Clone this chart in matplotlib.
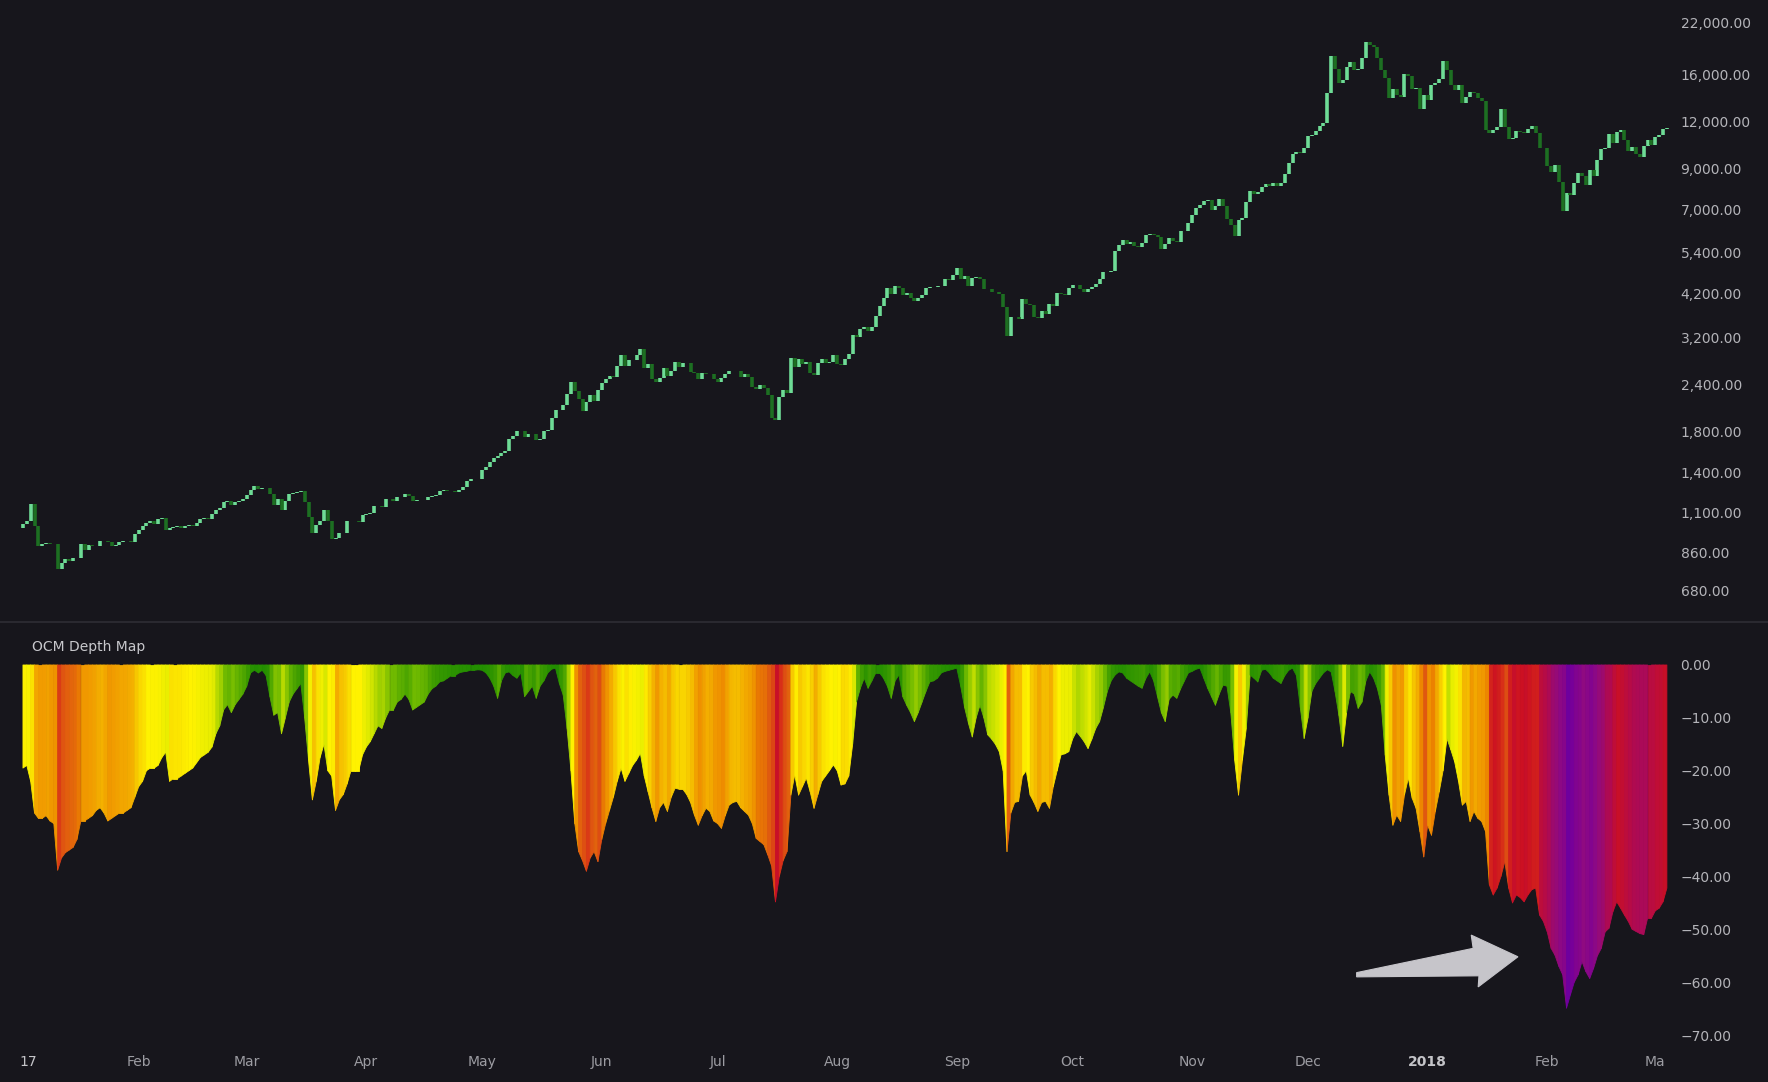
import numpy as np
import matplotlib
matplotlib.use("Agg")
from matplotlib import pyplot as plt
import matplotlib.dates as mdates
from matplotlib.colors import LinearSegmentedColormap, Normalize
from matplotlib.patches import Polygon
from matplotlib.collections import PolyCollection
from matplotlib.ticker import FixedLocator, FuncFormatter, NullLocator

# daily closes, 2 Jan 2017 .. 4 Mar 2018
first_open = 998
close_jan17 = [1021, 1043, 1154, 1013, 896, 903, 909, 903, 908, 778, 806, 826, 818, 832, 830,
               907, 872, 899, 896, 893, 921, 925, 915, 893, 901, 918, 920, 921, 914, 965]
close_feb17 = [989, 1011, 1030, 1045, 1024, 1053, 1062, 985, 999, 1004, 1011, 996, 1010, 1019,
               1009, 1032, 1053, 1065, 1056, 1085, 1117, 1126, 1171, 1177, 1148, 1169, 1178, 1190]
close_mar17 = [1222, 1259, 1288, 1269, 1273, 1277, 1232, 1153, 1195, 1113, 1180, 1226, 1241, 1244,
               1253, 1172, 1071, 970, 1020, 1042, 1113, 1044, 936, 937, 966, 968, 1045, 1045, 1040,
               1037, 1079]
close_apr17 = [1086, 1097, 1144, 1143, 1134, 1194, 1195, 1181, 1207, 1207, 1226, 1218, 1180, 1185,
               1186, 1187, 1210, 1217, 1222, 1253, 1259, 1249, 1251, 1248, 1262, 1284, 1331, 1347,
               1348, 1351]
close_may17 = [1421, 1452, 1491, 1537, 1555, 1578, 1596, 1725, 1756, 1807, 1809, 1738, 1779, 1780,
               1714, 1726, 1805, 1819, 1961, 2053, 2052, 2124, 2273, 2446, 2305, 2202, 2038, 2155,
               2256, 2176, 2330]
close_jun17 = [2424, 2478, 2530, 2516, 2698, 2874, 2691, 2789, 2790, 2871, 2980, 2657, 2718, 2482,
               2444, 2507, 2656, 2531, 2609, 2760, 2672, 2741, 2740, 2587, 2582, 2488, 2584, 2565,
               2559, 2480]
close_jul17 = [2435, 2498, 2561, 2610, 2616, 2608, 2519, 2566, 2518, 2367, 2337, 2398, 2357, 2249,
               1963, 1929, 2228, 2319, 2274, 2818, 2668, 2811, 2730, 2755, 2574, 2539, 2744, 2807,
               2733, 2765, 2876]
close_aug17 = [2718, 2710, 2805, 2895, 3252, 3213, 3378, 3420, 3342, 3418, 3650, 3884, 4073, 4325,
               4182, 4376, 4331, 4160, 4194, 4088, 4000, 4090, 4151, 4335, 4372, 4353, 4382, 4382,
               4579, 4565, 4703]
close_sep17 = [4892, 4579, 4656, 4381, 4606, 4637, 4589, 4313, 4318, 4229, 4227, 4168, 3871, 3237,
               3625, 3625, 3583, 4065, 3924, 3905, 3631, 3602, 3776, 3703, 3943, 3890, 4209, 4173,
               4163, 4339]
close_oct17 = [4403, 4410, 4311, 4226, 4322, 4370, 4438, 4594, 4777, 4782, 4820, 5431, 5639, 5829,
               5687, 5755, 5595, 5573, 5700, 6006, 6031, 5999, 5906, 5505, 5669, 5893, 5780, 5754,
               6153, 6131, 6468]
close_nov17 = [6767, 7079, 7208, 7380, 7407, 6996, 7144, 7459, 7143, 6618, 6357, 5950, 6559, 6635,
               7316, 7871, 7708, 7791, 8036, 8200, 8072, 8244, 8099, 8234, 8700, 9333, 9839, 9958,
               9889, 10233]
close_dec17 = [10975, 11075, 11323, 11657, 11917, 14292, 17899, 16570, 15179, 15455, 16733, 17276,
               16409, 16565, 17706, 19497, 19140, 18980, 17706, 16459, 15632, 13863, 14608, 14157,
               13926, 16099, 15839, 14607, 14699, 12952, 14157]
close_jan18 = [13657, 14982, 15201, 15599, 17430, 16477, 14991, 14595, 14973, 13405, 13981, 14361,
               14266, 13820, 13610, 11432, 11199, 11424, 11596, 12951, 11627, 10806, 10859, 11360,
               11260, 11172, 11441, 11708, 11200, 10232, 10221]
close_feb18 = [9170, 8830, 9174, 8277, 6955, 7755, 7638, 8266, 8736, 8621, 8130, 8926, 8599, 9494,
               10166, 10233, 11113, 10551, 11225, 11404, 10690, 10005, 10301, 9813, 9665, 10366,
               10725, 10397]
close_mar18 = [10951, 11086, 11489, 11512]

# OCM depth map, same days
depth_jan17 = [-19.5, -19, -22, -28, -29, -29, -28.5, -29.5, -30, -38.8, -36.5, -35.5, -35, -34.5,
               -33, -29.5, -29.5, -29, -28.5, -27.5, -27, -28, -29.5, -29, -28.5, -28, -28, -27.5,
               -27, -25]
depth_feb17 = [-23, -22, -20, -19.5, -19.5, -19, -17.5, -16.5, -22, -21.5, -21.5, -21, -20.5, -20,
               -19.5, -18.5, -17.5, -17, -16.5, -15.5, -13, -11.5, -8.5, -7.5, -9, -7.5, -6.5, -5.5]
depth_mar17 = [-4, -1.5, -1, -1.5, -1, -2, -6, -9.5, -9, -13, -10, -7, -5.5, -4.5, -3.5, -10, -18,
               -25.5, -22, -17.5, -15, -20, -21, -27.5, -25.5, -24.5, -22.5, -20, -20, -20, -17]
depth_apr17 = [-15.5, -14.5, -13, -11.5, -12, -10, -8.5, -8.5, -7, -6.5, -5.5, -6.5, -8.5, -8, -7.5,
               -7, -5.5, -4.5, -4, -3.2, -3, -2.5, -2, -2, -1.5, -1.3, -1.2, -1, -1, -0.9]
depth_may17 = [-1, -1.5, -2.5, -4, -6.3, -3, -1.5, -1.3, -2, -2.5, -1.5, -6, -5, -4, -6.3, -4, -3,
               -1.5, -0.8, -0.6, -3.5, -5.7, -12, -20, -30, -35.3, -37, -39, -36.5, -35.3, -37.2]
depth_jun17 = [-33, -30, -27.5, -25, -22, -19.5, -22, -20.5, -19, -18, -16.7, -21, -24, -27, -29.6,
               -27, -26, -27.7, -25, -23.3, -23.5, -23.5, -24.5, -26, -28.4, -30.3, -28.5, -27.1,
               -27.7, -29.5]
depth_jul17 = [-30, -30.9, -28.5, -26.5, -26, -25.8, -27, -27.7, -28.4, -30, -32.8, -33.4, -34,
               -35.9, -38, -44.8, -40, -37, -35.3, -24.6, -20.8, -24.6, -23, -21.4, -24, -27.1,
               -24.5, -22, -21, -20, -18.9]
depth_aug17 = [-20, -22.7, -22.5, -21, -15, -7, -4.4, -2.5, -4.4, -3, -1.5, -1.5, -2.5, -4, -6.3,
               -3, -1.9, -6, -7.6, -9, -10.7, -9, -7, -5, -3.2, -3, -2.5, -1.5, -1.2, -1, -0.8]
depth_sep17 = [-0.6, -4, -8, -11, -13.6, -10, -7.6, -10, -13.2, -14, -15, -16.4, -20, -35.3, -28,
               -26, -25.8, -21, -20, -24.6, -26, -27.7, -26, -25.8, -27.1, -23, -20, -17, -16.8,
               -16.4]
depth_oct17 = [-14, -12.6, -13.5, -14.5, -15.8, -14, -12, -10.7, -8, -5, -3, -1.9, -1.3, -1.5, -2.5,
               -3, -3.5, -4, -4.4, -2.5, -1.3, -3, -6, -9, -10.7, -6.5, -5.7, -6.3, -4.5, -3, -1.5]
depth_nov17 = [-1.2, -0.8, -0.6, -2.5, -4.4, -6, -7.6, -5.5, -3.8, -4, -9, -18, -24.6, -18, -12,
               -1.9, -2.5, -3.2, -1, -0.8, -1.5, -2.5, -3, -3.5, -2, -1, -0.6, -2, -8, -13.9]
depth_dec17 = [-10, -5, -3.5, -2.5, -1.5, -0.9, -1.3, -5, -9.5, -15.4, -9, -5, -5.5, -8.2, -7, -3,
               -1.3, -2.5, -4.5, -7.6, -17, -24.6, -30.3, -28.4, -29.6, -24.6, -21.4, -25.2, -27.1,
               -31.5, -36.3]
depth_jan18 = [-30.3, -32.2, -27.7, -24, -20, -13.9, -16, -18.3, -22, -26.5, -25.8, -29.6, -27.7,
               -29, -29.6, -31.5, -41.6, -43.5, -42.2, -40, -37.2, -42.2, -45, -43.5, -44, -44.8,
               -43.5, -42.5, -42.2, -47.3, -48.5]
depth_feb18 = [-50.5, -53.6, -54.9, -57, -58.6, -64.9, -62.4, -60, -58.6, -56.1, -58, -59.3, -57.4,
               -55, -53.6, -50.5, -49.8, -46.7, -44.8, -46, -47.3, -48.5, -50, -50.4, -50.8, -51,
               -47.9, -47.9]
depth_mar18 = [-46.5, -46, -44.8, -42.2]

price_ticks = [680, 860, 1100, 1400, 1800, 2400, 3200, 4200, 5400, 7000, 9000, 12000, 16000, 22000]
depth_ticks = [0, -10, -20, -30, -40, -50, -60, -70]
month_ticks = ['2017-01-01', '2017-02-01', '2017-03-01', '2017-04-01', '2017-05-01', '2017-06-01',
               '2017-07-01', '2017-08-01', '2017-09-01', '2017-10-01', '2017-11-01', '2017-12-01',
               '2018-01-01', '2018-02-01', '2018-03-01']
month_labels = ['17', 'Feb', 'Mar', 'Apr', 'May', 'Jun', 'Jul', 'Aug', 'Sep', 'Oct', 'Nov', 'Dec',
                '2018', 'Feb', 'Ma']

# depth colour scale
depth_stops = [-66, -62, -56, -50, -44, -40, -36, -32, -28, -24, -20, -16, -12, -8, -4, 0]
depth_colors = ['#6a00a0', '#7a0098', '#900a80', '#b00a50', '#cc1022', '#d83018', '#e05a10',
                '#ec8200', '#f2a500', '#f8d000', '#fff200', '#e8ee00', '#a8d400', '#6cb800',
                '#3a9a00', '#1e8c00']

BG = '#17161c'
UP = '#6edc96'
DOWN = '#1d6f22'

close = np.array(close_jan17 + close_feb17 + close_mar17 + close_apr17 + close_may17 + close_jun17
                 + close_jul17 + close_aug17 + close_sep17 + close_oct17 + close_nov17 + close_dec17
                 + close_jan18 + close_feb18 + close_mar18, dtype=float)
depth = np.array(depth_jan17 + depth_feb17 + depth_mar17 + depth_apr17 + depth_may17 + depth_jun17
                 + depth_jul17 + depth_aug17 + depth_sep17 + depth_oct17 + depth_nov17 + depth_dec17
                 + depth_jan18 + depth_feb18 + depth_mar18, dtype=float)
dates = np.arange(np.datetime64('2017-01-02'), np.datetime64('2018-03-05'))
x = mdates.date2num(dates)
opens = np.concatenate([[first_open], close[:-1]])

fig = plt.figure(figsize=(17.68, 10.82), dpi=100, facecolor=BG)
W, H = 1768.0, 1082.0
left_px, right_px = 19.1, 1675.0
ax1 = fig.add_axes([left_px / W, 1 - 622 / H, (right_px - left_px) / W, 622 / H], facecolor=BG)
ax2 = fig.add_axes([left_px / W, 1 - 1045 / H, (right_px - left_px) / W, 415 / H], facecolor=BG,
                   sharex=ax1)

day0 = mdates.date2num(np.datetime64('2017-01-01'))
ax1.set_xlim(day0, day0 + (right_px - left_px) / 3.859)

# price candles
up = close >= opens
ax1.vlines(x[up], opens[up], close[up], color=UP, lw=2.6)
ax1.vlines(x[~up], close[~up], opens[~up], color=DOWN, lw=2.6)
ax1.set_yscale('log')
ax1.set_ylim(562, 25245)
ax1.yaxis.tick_right()
ax1.yaxis.set_major_locator(FixedLocator(price_ticks))
ax1.yaxis.set_minor_locator(NullLocator())
ax1.yaxis.set_major_formatter(FuncFormatter(lambda v, p: f'{v:,.2f}'))
ax1.tick_params(axis='y', length=0, pad=4, labelsize=10, labelcolor='#b4b4b9')
ax1.tick_params(axis='x', bottom=False, labelbottom=False)

# depth map: one coloured slice per day, joined point to point
cmap = LinearSegmentedColormap.from_list(
    'depth', [((s - depth_stops[0]) / (depth_stops[-1] - depth_stops[0]), c)
              for s, c in zip(depth_stops, depth_colors)])
norm = Normalize(vmin=depth_stops[0], vmax=depth_stops[-1])
cols = cmap(norm(depth))
slices = [[(x[i], 0), (x[i + 1], 0), (x[i + 1], depth[i + 1]), (x[i], depth[i])]
          for i in range(len(x) - 1)]
ax2.add_collection(PolyCollection(slices, facecolors=cols[:-1], edgecolors=cols[:-1],
                                  linewidths=0.6))
ax2.set_ylim(-71.89, 6.62)
ax2.yaxis.tick_right()
ax2.set_yticks(depth_ticks)
ax2.yaxis.set_major_formatter(FuncFormatter(lambda v, p: f'{v:.2f}'.replace('-', '\u2212')))
ax2.tick_params(axis='y', length=0, pad=4, labelsize=10, labelcolor='#b4b4b9')
ax2.set_xticks(mdates.date2num(np.array(month_ticks, dtype='datetime64[D]')))
ax2.set_xticklabels(month_labels)
ax2.tick_params(axis='x', length=0, pad=7, labelsize=10, labelcolor='#9c9ca2')
for lab in ax2.get_xticklabels():
    if lab.get_text() == '2018':
        lab.set_fontweight('bold')
        lab.set_color('#c4c4c8')
    if lab.get_text() == '17':
        lab.set_horizontalalignment('left')
        lab.set_color('#c4c4c8')

for a in (ax1, ax2):
    for s in a.spines.values():
        s.set_visible(False)

# arrow pointing at the deepest drawdown
arrow = [(346.6, -58.2), (376.8, -53.6), (376.3, -51.1), (388.4, -55.2),
         (378.1, -60.9), (378.3, -58.8), (346.6, -59.0)]
ax2.add_patch(Polygon([(day0 + d, v) for d, v in arrow], closed=True,
                      facecolor='#c6c5ca', edgecolor='#c6c5ca', lw=0.8, zorder=5))

fig.text(31.5 / W, 1 - 646.5 / H, 'OCM Depth Map', color='#c8c8cc', fontsize=10,
         ha='left', va='center')
fig.add_artist(plt.Line2D([0, 1], [1 - 622 / H, 1 - 622 / H], color='#2a2930', lw=1.5))

fig.savefig('out.png', dpi=100, facecolor=BG)
